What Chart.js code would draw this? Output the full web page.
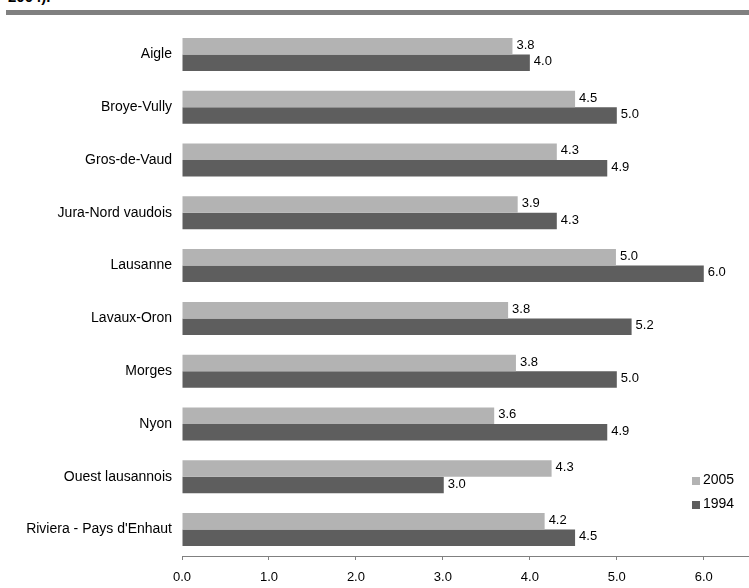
<!DOCTYPE html>
<html>
<head>
<meta charset="utf-8">
<script src="https://cdn.jsdelivr.net/npm/chart.js@4/dist/chart.umd.min.js"></script>
<style>
    html, body { margin: 0; padding: 0; background: #fff; }
    #wrap { position: relative; width: 749px; height: 588px; overflow: hidden; }
    #title { position: absolute; left: 8px; top: -12px; font: bold 15px "Liberation Sans", Arial, sans-serif; color: #000; }
    #rule { position: absolute; left: 6px; right: 0; top: 10px; height: 5px; background: #808080; }
    #chart { position: absolute; left: 0; top: 0; }
</style>
</head>
<body>
<div id="wrap">
    <div id="title">2004).</div>
    <div id="rule"></div>
    <canvas id="chart" width="749" height="588"></canvas>
</div>
<script>
const regions = [
    "Aigle",
    "Broye-Vully",
    "Gros-de-Vaud",
    "Jura-Nord vaudois",
    "Lausanne",
    "Lavaux-Oron",
    "Morges",
    "Nyon",
    "Ouest lausannois",
    "Riviera - Pays d'Enhaut",
];
const values2005 = [3.8, 4.52, 4.31, 3.86, 4.99, 3.75, 3.84, 3.59, 4.25, 4.17];
const values1994 = [4.0, 5.0, 4.89, 4.31, 6.0, 5.17, 5.0, 4.89, 3.01, 4.52];
const tickValues = [0, 1, 2, 3, 4, 5, 6];

const fontFamily = '"Liberation Sans", Arial, sans-serif';

// valeurs écrites à droite de chaque barre
const barValues = {
    id: "barValues",
    afterDatasetsDraw(chart) {
        const ctx = chart.ctx;
        ctx.save();
        ctx.font = "13px " + fontFamily;
        ctx.fillStyle = "#000";
        ctx.textAlign = "left";
        ctx.textBaseline = "middle";
        chart.data.datasets.forEach((ds, i) => {
            chart.getDatasetMeta(i).data.forEach((bar, j) => {
                ctx.fillText(ds.data[j].toFixed(1), bar.x + 4, bar.y - 1);
            });
        });
        ctx.restore();
    }
};

// légende dans la zone du graphique, en bas à droite
const boxLegend = {
    id: "boxLegend",
    afterDraw(chart) {
        const ctx = chart.ctx;
        const x = 692;
        let y = 477;
        ctx.save();
        ctx.font = "14px " + fontFamily;
        ctx.textBaseline = "middle";
        chart.data.datasets.forEach(ds => {
            ctx.fillStyle = ds.backgroundColor;
            ctx.fillRect(x, y, 8, 8);
            ctx.fillStyle = "#000";
            ctx.fillText(ds.label, x + 11, y + 3);
            y += 24;
        });
        ctx.restore();
    }
};

const ctx = document.getElementById("chart").getContext("2d");
new Chart(ctx, {
    type: "bar",
    data: {
        labels: regions,
        datasets: [
            { label: "2005", data: values2005, backgroundColor: "#b3b3b3" },
            { label: "1994", data: values1994, backgroundColor: "#5e5e5e" },
        ],
    },
    options: {
        indexAxis: "y",
        responsive: false,
        animation: false,
        layout: { padding: { top: 28, right: 0, bottom: 0, left: 0 } },
        datasets: { bar: { barPercentage: 1, categoryPercentage: 0.625 } },
        plugins: {
            legend: { display: false },
            tooltip: { enabled: false },
        },
        scales: {
            x: {
                min: 0,
                max: 6.52,
                afterBuildTicks: scale => {
                    scale.ticks = tickValues.map(v => ({ value: v }));
                },
                afterFit: scale => { scale.height = 32; },
                grid: { drawOnChartArea: false, tickLength: 4, color: "#808080" },
                border: { color: "#808080", width: 1 },
                ticks: {
                    color: "#000",
                    font: { family: fontFamily, size: 13 },
                    padding: 10,
                    callback: v => v.toFixed(1),
                },
            },
            y: {
                afterFit: scale => { scale.width = 182; },
                grid: { display: false },
                border: { display: false },
                ticks: {
                    color: "#000",
                    font: { family: fontFamily, size: 14 },
                    padding: 2,
                },
            },
        },
    },
    plugins: [barValues, boxLegend],
});
</script>
</body>
</html>
